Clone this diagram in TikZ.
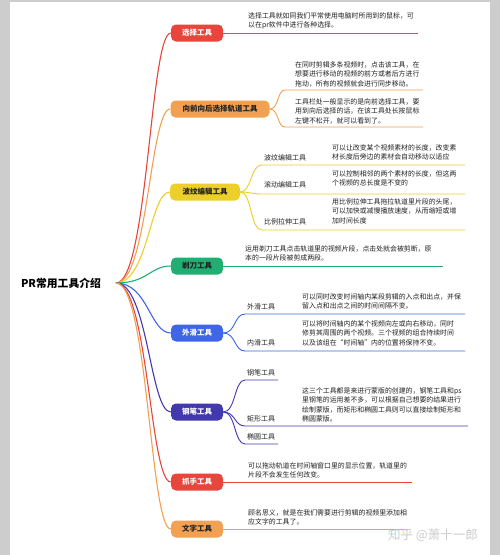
\documentclass[tikz,border=0pt]{standalone}
\usepackage{fontspec}
\setmainfont{Noto Sans CJK SC}
\definecolor{cRed}{HTML}{E8453C}
\definecolor{cOrange}{HTML}{F2A152}
\definecolor{cYellow}{HTML}{EDCF2B}
\definecolor{cGreen}{HTML}{1FAF72}
\definecolor{cBlue}{HTML}{3E66E6}
\definecolor{cIndigo}{HTML}{4339AE}
\definecolor{cDark}{HTML}{222222}
\definecolor{cFrame}{HTML}{CDCDCD}
\begin{document}
\begin{tikzpicture}[x=1pt,y=-1pt,
  mainbox/.style={rounded corners=5pt, minimum height=17pt, inner sep=0pt,
    font=\bfseries\fontsize{7.5}{9}\selectfont, align=center},
  desc/.style={anchor=north west, align=left, inner sep=0pt, text=cDark,
    font=\fontsize{6.9}{9.3}\selectfont},
  sublabel/.style={anchor=west, inner sep=0pt, text=cDark,
    font=\fontsize{7}{8}\selectfont},
  conn/.style={line width=1.1pt},
  subconn/.style={line width=0.9pt}]
\fill[cFrame] (0,0) rectangle (500,555);
\fill[white] (10,2) rectangle (490,555);
\useasboundingbox (0,0) rectangle (500,555);

% root
\node[inner sep=0pt, text=black, font=\bfseries\fontsize{10.8}{12}\selectfont] (root) at (61,283) {PR常用工具介绍};
\coordinate (rc) at (116,283);

% main nodes
\node[mainbox, fill=cRed, text=white, minimum width=52pt] (n1) at (197,33) {选择工具};
\node[mainbox, fill=cOrange, text=cDark, minimum width=99pt] (n2) at (220,109) {向前向后选择轨道工具};
\node[mainbox, fill=cYellow, text=cDark, minimum width=70pt] (n3) at (205,192) {波纹编辑工具};
\node[mainbox, fill=cGreen, text=cDark, minimum width=52pt] (n4) at (197,266) {剃刀工具};
\node[mainbox, fill=cBlue, text=white, minimum width=52pt] (n5) at (197,333) {外滑工具};
\node[mainbox, fill=cIndigo, text=white, minimum width=52pt] (n6) at (197,412) {钢笔工具};
\node[mainbox, fill=cRed, text=white, minimum width=52pt] (n7) at (197,482) {抓手工具};
\node[mainbox, fill=cOrange, text=cDark, minimum width=52pt] (n8) at (197,529) {文字工具};

% root connectors
\draw[conn, cRed] (rc) .. controls (148,283) and (150,33) .. (n1.west);
\draw[conn, cOrange] (rc) .. controls (148,283) and (150,109) .. (n2.west);
\draw[conn, cYellow] (rc) .. controls (148,283) and (150,192) .. (n3.west);
\draw[conn, cGreen] (rc) .. controls (148,283) and (150,266) .. (n4.west);
\draw[conn, cBlue] (rc) .. controls (148,283) and (150,333) .. (n5.west);
\draw[conn, cIndigo] (rc) .. controls (148,283) and (150,412) .. (n6.west);
\draw[conn, cRed] (rc) .. controls (148,283) and (150,482) .. (n7.west);
\draw[conn, cOrange] (rc) .. controls (148,283) and (150,529) .. (n8.west);

% 选择工具
\coordinate (e1) at (418,33);
\draw[subconn, cRed] (n1.east) -- (e1);
\node[desc] (d1) at (248,12.6) {选择工具就如同我们平常使用电脑时所用到的鼠标，可\\以在pr软件中进行各种选择。};

% 向前向后选择轨道工具
\coordinate (b2a) at (285,90); \coordinate (e2a) at (423,90);
\coordinate (b2b) at (285,127); \coordinate (e2b) at (423,127);
\draw[subconn, cOrange] (n2.east) .. controls (279,109) and (277,90) .. (b2a) -- (e2a);
\draw[subconn, cOrange] (n2.east) .. controls (279,109) and (277,127) .. (b2b) -- (e2b);
\node[desc] (d2a) at (295,61.6) {在同时剪辑多条视频时，点击该工具，在\\想要进行移动的视频的前方或者后方进行\\拖动，所有的视频就会进行同步移动。};
\node[desc] (d2b) at (295,98.6) {工具栏处一般显示的是向前选择工具，要\\用到向后选择的话，在该工具处长按鼠标\\左键不松开，就可以看到了。};

% 波纹编辑工具
\coordinate (b3a) at (262,165); \coordinate (e3a) at (465,165);
\coordinate (b3b) at (262,194); \coordinate (e3b) at (465,194);
\coordinate (b3c) at (262,230); \coordinate (e3c) at (465,230);
\draw[subconn, cYellow] (n3.east) .. controls (252,192) and (250,165) .. (b3a) -- (e3a);
\draw[subconn, cYellow] (n3.east) .. controls (252,192) and (250,194) .. (b3b) -- (e3b);
\draw[subconn, cYellow] (n3.east) .. controls (252,192) and (250,230) .. (b3c) -- (e3c);
\node[sublabel] (s3a) at (264,158) {波纹编辑工具};
\node[sublabel] (s3b) at (264,185) {滚动编辑工具};
\node[sublabel] (s3c) at (264,222) {比例拉伸工具};
\node[desc] (d3a) at (332,144.6) {可以让改变某个视频素材的长度，改变素\\材长度后旁边的素材会自动移动以适应};
\node[desc] (d3b) at (332,170.6) {可以控制相邻的两个素材的长度，但这两\\个视频的总长度是不变的};
\node[desc] (d3c) at (332,198.6) {用比例拉伸工具拖拉轨道里片段的头尾，\\可以加快或减慢播放速度，从而缩短或增\\加时间长度};

% 剃刀工具
\coordinate (e4) at (443,266);
\draw[subconn, cGreen] (n4.east) -- (e4);
\node[desc] (d4) at (245,245.6) {运用剃刀工具点击轨道里的视频片段，点击处就会被剪断，原\\本的一段片段被剪成两段。};

% 外滑工具
\coordinate (b5a) at (245,314); \coordinate (e5a) at (465,314);
\coordinate (b5b) at (245,351); \coordinate (e5b) at (465,351);
\draw[subconn, cBlue] (n5.east) .. controls (236,333) and (234,314) .. (b5a) -- (e5a);
\draw[subconn, cBlue] (n5.east) .. controls (236,333) and (234,351) .. (b5b) -- (e5b);
\node[sublabel] (s5a) at (247,307) {外滑工具};
\node[sublabel] (s5b) at (247,343) {内滑工具};
\node[desc] (d5a) at (302,293.6) {可以同时改变时间轴内某段剪辑的入点和出点，并保\\留入点和出点之间的时间间隔不变。};
\node[desc] (d5b) at (302,320.6) {可以将时间轴内的某个视频向左或向右移动，同时\\修剪其周围的两个视频。三个视频的组合持续时间\\以及该组在“时间轴”内的位置将保持不变。};

% 钢笔工具
\coordinate (b6a) at (245,380); \coordinate (e6a) at (278,380);
\coordinate (b6b) at (245,426); \coordinate (e6b) at (468,426);
\coordinate (b6c) at (245,444); \coordinate (e6c) at (278,444);
\draw[subconn, cIndigo] (n6.east) .. controls (236,412) and (234,380) .. (b6a) -- (e6a);
\draw[subconn, cIndigo] (n6.east) .. controls (236,412) and (234,426) .. (b6b) -- (e6b);
\draw[subconn, cIndigo] (n6.east) .. controls (236,412) and (234,444) .. (b6c) -- (e6c);
\node[sublabel] (s6a) at (247,373) {钢笔工具};
\node[sublabel] (s6b) at (247,419) {矩形工具};
\node[sublabel] (s6c) at (247,437) {椭圆工具};
\node[desc] (d6) at (302,387.6) {这三个工具都是来进行蒙版的创建的，钢笔工具和ps\\里钢笔的运用差不多，可以根据自己想要的结果进行\\绘制蒙版，而矩形和椭圆工具则可以直接绘制矩形和\\椭圆蒙版。};

% 抓手工具
\coordinate (e7) at (412,482);
\draw[subconn, cRed] (n7.east) -- (e7);
\node[desc] (d7) at (248,462.6) {可以拖动轨道在时间轴窗口里的显示位置，轨道里的\\片段不会发生任何改变。};

% 文字工具
\coordinate (e8) at (410,529);
\draw[subconn, cOrange] (n8.east) -- (e8);
\node[desc] (d8) at (248,509.6) {顾名思义，就是在我们需要进行剪辑的视频里添加相\\应文字的工具了。};

% watermark
\node[inner sep=0pt, text=gray!40, font=\fontsize{12.5}{14}\selectfont] (wm) at (433,535) {知乎 @萧十一郎};
\end{tikzpicture}
\end{document}
